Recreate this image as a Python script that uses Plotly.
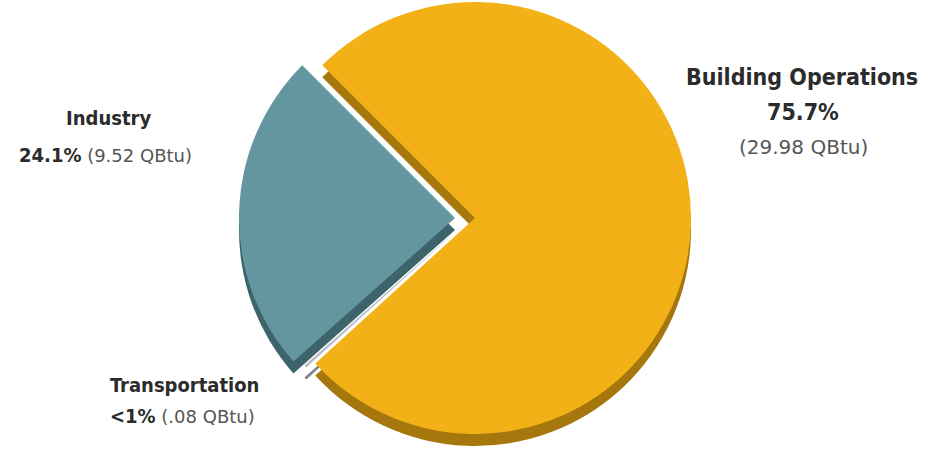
import plotly.graph_objects as go

# Energy consumption by sector (quadrillion Btu)
sectors = ["Building Operations", "Transportation", "Industry"]
qbtu = [29.98, 0.08, 9.52]
shares = ["75.7%", "<1%", "24.1%"]

face_colors = ["#F1B117", "#B9BCC2", "#63969F"]
wall_colors = ["#A5770C", "#7E8186", "#3D636B"]

W, H = 938, 452
R = 216          # pie radius in px
CX, CY = 475, 218
DEPTH = 12       # thickness of the slab
# per-slice explode offsets in px (dx, dy with y downward)
offsets = [(0, 0), (-9, 4), (-20, 0)]


def domain(cx, cy):
    half_w = 300
    return dict(
        x=[(cx - half_w) / W, (cx + half_w) / W],
        y=[max(0.0, 1 - (cy + R) / H), min(1.0, 1 - (cy - R) / H)],
    )


def slice_trace(idx, colors, dy_extra):
    dx, dy = offsets[idx]
    cols = ["rgba(0,0,0,0)"] * len(qbtu)
    cols[idx] = colors[idx]
    return go.Pie(
        labels=sectors,
        values=qbtu,
        sort=False,
        direction="clockwise",
        rotation=-45,
        marker=dict(colors=cols, line=dict(width=0)),
        textinfo="none",
        hoverinfo="label+value+percent",
        showlegend=False,
        domain=domain(CX + dx, CY + dy + dy_extra),
    )


fig = go.Figure()
# side walls first (shifted down), then the top faces
for i in [2, 1, 0]:
    fig.add_trace(slice_trace(i, wall_colors, DEPTH))
for i in [0, 1, 2]:
    fig.add_trace(slice_trace(i, face_colors, 0))

bold_font = "DejaVu Sans Condensed, Roboto, sans-serif"
reg_font = "DejaVu Sans"
dark = "#2B2B2B"
grey = "#555555"


def value_line(share, amount):
    return ("<b>%s</b><span style='font-family:%s;font-size:18px;color:%s'> (%s QBtu)</span>"
            % (share, reg_font, grey, amount))


annotations = [
    dict(x=802, y=77, text="<b>Building Operations</b>", xanchor="center",
         font=dict(family=bold_font, size=23, color=dark)),
    dict(x=803, y=112, text="<b>%s</b>" % shares[0], xanchor="center",
         font=dict(family=bold_font, size=23, color=dark)),
    dict(x=803, y=147, text="(%.2f QBtu)" % qbtu[0], xanchor="center",
         font=dict(family=reg_font, size=20, color=grey)),
    dict(x=108, y=118, text="<b>Industry</b>", xanchor="center",
         font=dict(family=bold_font, size=20, color=dark)),
    dict(x=105, y=155, text=value_line(shares[2], "%.2f" % qbtu[2]), xanchor="center",
         font=dict(family=bold_font, size=20, color=dark)),
    dict(x=108, y=385, text="<b>Transportation</b>", xanchor="left",
         font=dict(family=bold_font, size=20, color=dark)),
    dict(x=108, y=416, text=value_line(shares[1], ("%.2f" % qbtu[1]).lstrip("0")), xanchor="left",
         font=dict(family=bold_font, size=20, color=dark)),
]
for a in annotations:
    a.update(xref="paper", yref="paper", x=a["x"] / W, y=1 - a["y"] / H,
             yanchor="middle", showarrow=False)

fig.update_layout(
    width=W, height=H,
    margin=dict(l=0, r=0, t=0, b=0),
    paper_bgcolor="white", plot_bgcolor="white",
    annotations=annotations,
)

fig.write_html("out.html")
